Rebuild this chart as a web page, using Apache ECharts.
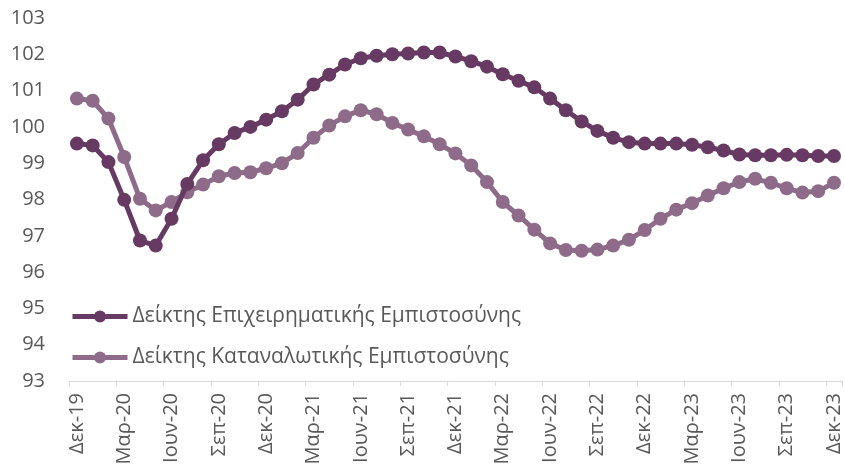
<!DOCTYPE html>
<html><head><meta charset="utf-8">
<script src="https://cdn.jsdelivr.net/npm/echarts@6/dist/echarts.min.js"></script>
<style>html,body{margin:0;padding:0;background:#fff}#c{width:844px;height:471px}</style>
</head><body><div id="c"></div>
<script>
const categories = [
  'Δεκ-19',
  'Ιαν-20','Φεβ-20','Μαρ-20','Απρ-20','Μαϊ-20','Ιουν-20','Ιουλ-20','Αυγ-20','Σεπ-20','Οκτ-20','Νοε-20','Δεκ-20',
  'Ιαν-21','Φεβ-21','Μαρ-21','Απρ-21','Μαϊ-21','Ιουν-21','Ιουλ-21','Αυγ-21','Σεπ-21','Οκτ-21','Νοε-21','Δεκ-21',
  'Ιαν-22','Φεβ-22','Μαρ-22','Απρ-22','Μαϊ-22','Ιουν-22','Ιουλ-22','Αυγ-22','Σεπ-22','Οκτ-22','Νοε-22','Δεκ-22',
  'Ιαν-23','Φεβ-23','Μαρ-23','Απρ-23','Μαϊ-23','Ιουν-23','Ιουλ-23','Αυγ-23','Σεπ-23','Οκτ-23','Νοε-23','Δεκ-23'
];
const seriesNames = ['Δείκτης Επιχειρηματικής Εμπιστοσύνης', 'Δείκτης Καταναλωτικής Εμπιστοσύνης'];
const businessConfidence = [
  99.54, 99.49, 99.03, 97.99, 96.87, 96.73, 97.47, 98.43, 99.08, 99.52,
  99.83, 100.00, 100.20, 100.43, 100.75, 101.17, 101.44, 101.72, 101.89, 101.96,
  102.00, 102.02, 102.05, 102.05, 101.94, 101.81, 101.66, 101.45, 101.27, 101.09,
  100.78, 100.46, 100.15, 99.89, 99.70, 99.58, 99.54, 99.54, 99.54, 99.51,
  99.44, 99.35, 99.24, 99.22, 99.22, 99.23, 99.22, 99.20, 99.20
];
const consumerConfidence = [
  100.78, 100.72, 100.23, 99.17, 98.02, 97.70, 97.93, 98.20, 98.41, 98.64,
  98.73, 98.75, 98.86, 99.00, 99.28, 99.70, 100.04, 100.29, 100.46, 100.35,
  100.11, 99.93, 99.74, 99.52, 99.27, 98.94, 98.48, 97.93, 97.56, 97.17,
  96.79, 96.61, 96.59, 96.62, 96.73, 96.89, 97.16, 97.47, 97.72, 97.90,
  98.11, 98.31, 98.48, 98.57, 98.46, 98.31, 98.19, 98.23, 98.46
];
const yMin = 93, yMax = 103, yStep = 1;

const FONT = 'Open Sans';
const TXT = '#595959';
const DARK = '#673A63', LIGHT = '#8E6C89';
const chart = echarts.init(document.getElementById('c'), null, {renderer: 'canvas'});
chart.setOption({
  animation: false,
  textStyle: {fontFamily: FONT},
  grid: {left: 69, right: 2, top: 18, bottom: 90, containLabel: false},
  legend: {
    orient: 'vertical', left: 70, top: 306, padding: 0,
    itemWidth: 55, itemHeight: 15, itemGap: 20,
    lineStyle: {width: 5},
    textStyle: {fontFamily: FONT, fontSize: 21, color: TXT},
    data: seriesNames
  },
  xAxis: {
    type: 'category', data: categories, boundaryGap: true,
    axisLine: {lineStyle: {color: '#d9d9d9', width: 1}},
    axisTick: {show: true, interval: 2, length: 5, lineStyle: {color: '#d9d9d9'}},
    axisLabel: {interval: 2, rotate: 90, margin: 12, fontFamily: FONT, fontSize: 20, color: TXT}
  },
  yAxis: {
    type: 'value', min: yMin, max: yMax, interval: yStep,
    splitLine: {show: false}, axisLine: {show: false}, axisTick: {show: false},
    axisLabel: {margin: 24, fontFamily: FONT, fontSize: 20, color: TXT}
  },
  series: [
    {name: seriesNames[0], type: 'line', data: businessConfidence, symbol: 'circle', symbolSize: 14,
     showAllSymbol: true,
     lineStyle: {width: 5, color: DARK}, itemStyle: {color: DARK}, z: 3},
    {name: seriesNames[1], type: 'line', data: consumerConfidence, symbol: 'circle', symbolSize: 14,
     showAllSymbol: true,
     lineStyle: {width: 5, color: LIGHT}, itemStyle: {color: LIGHT}, z: 2}
  ]
});
</script></body></html>
